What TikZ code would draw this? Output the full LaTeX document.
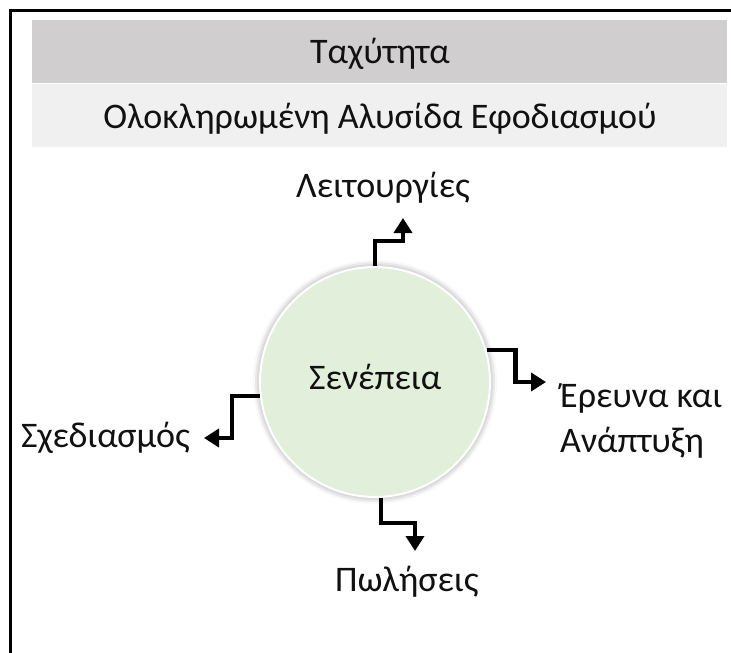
\documentclass[tikz,border=0pt]{standalone}
\usepackage{fontspec}
\setmainfont{Carlito}
\usetikzlibrary{arrows.meta,shadows.blur}
\definecolor{barDark}{HTML}{D0CECE}
\definecolor{barLight}{HTML}{F0F0F0}
\definecolor{hubGreen}{HTML}{E2EFDA}
\definecolor{ink}{HTML}{111111}
\tikzset{
  lbl/.style={font=\fontsize{36}{45}\selectfont, text=ink, inner sep=0pt, anchor=base west},
  elbow/.style={line width=4.5pt, draw=black, line join=miter,
    -{Triangle[length=15pt,width=18pt]}},
  hub/.style={circle, minimum size=230pt, inner sep=0pt, fill=hubGreen,
    draw=white, line width=2pt,
    blur shadow={shadow xshift=0pt, shadow yshift=0pt, shadow blur radius=7pt, shadow opacity=45}},
}
\begin{document}
\begin{tikzpicture}[x=1pt,y=-1pt]
\useasboundingbox (0,0) rectangle (731,653);
% frame lines
\draw[line width=3pt, black] (731,10) -- (10,10) -- (10,653);
% header bars
\fill[barDark] (32,20) rectangle (727,83);
\fill[barLight] (32,84) rectangle (727,147);
\node[lbl, anchor=base] (title) at (380,63) {Ταχύτητα};
\node[lbl, anchor=base] (subtitle) at (380,128) {Ολοκληρωμένη Αλυσίδα Εφοδιασμού};
% central hub
\node[hub] (c) at (375,382) {};
\node[lbl] (hubtext) at (309,389) {Σενέπεια};
% surrounding functions (base of a two-line node is its last line)
\node[lbl] (ops) at (296,197) {Λειτουργίες};
\node[lbl, align=left] (rnd) at (560,452) {Έρευνα και\\Ανάπτυξη};
\node[lbl] (design) at (21,447) {Σχεδιασμός};
\node[lbl] (sales) at (335,591) {Πωλήσεις};
% arrow tips
\coordinate (tT) at (403,218);
\coordinate (tR) at (546,382);
\coordinate (tL) at (204,438);
\coordinate (tB) at (415,551);
% elbow connectors
\draw[elbow] (c.north) -- ++(0,-25) -| (tT);
\draw[elbow] (c.16) -- ++(29,0) |- (tR);
\draw[elbow] (c.187) -- ++(-28,0) |- (tL);
\draw[elbow] (c.-87) -- ++(0,25) -| (tB);
\end{tikzpicture}
\end{document}
